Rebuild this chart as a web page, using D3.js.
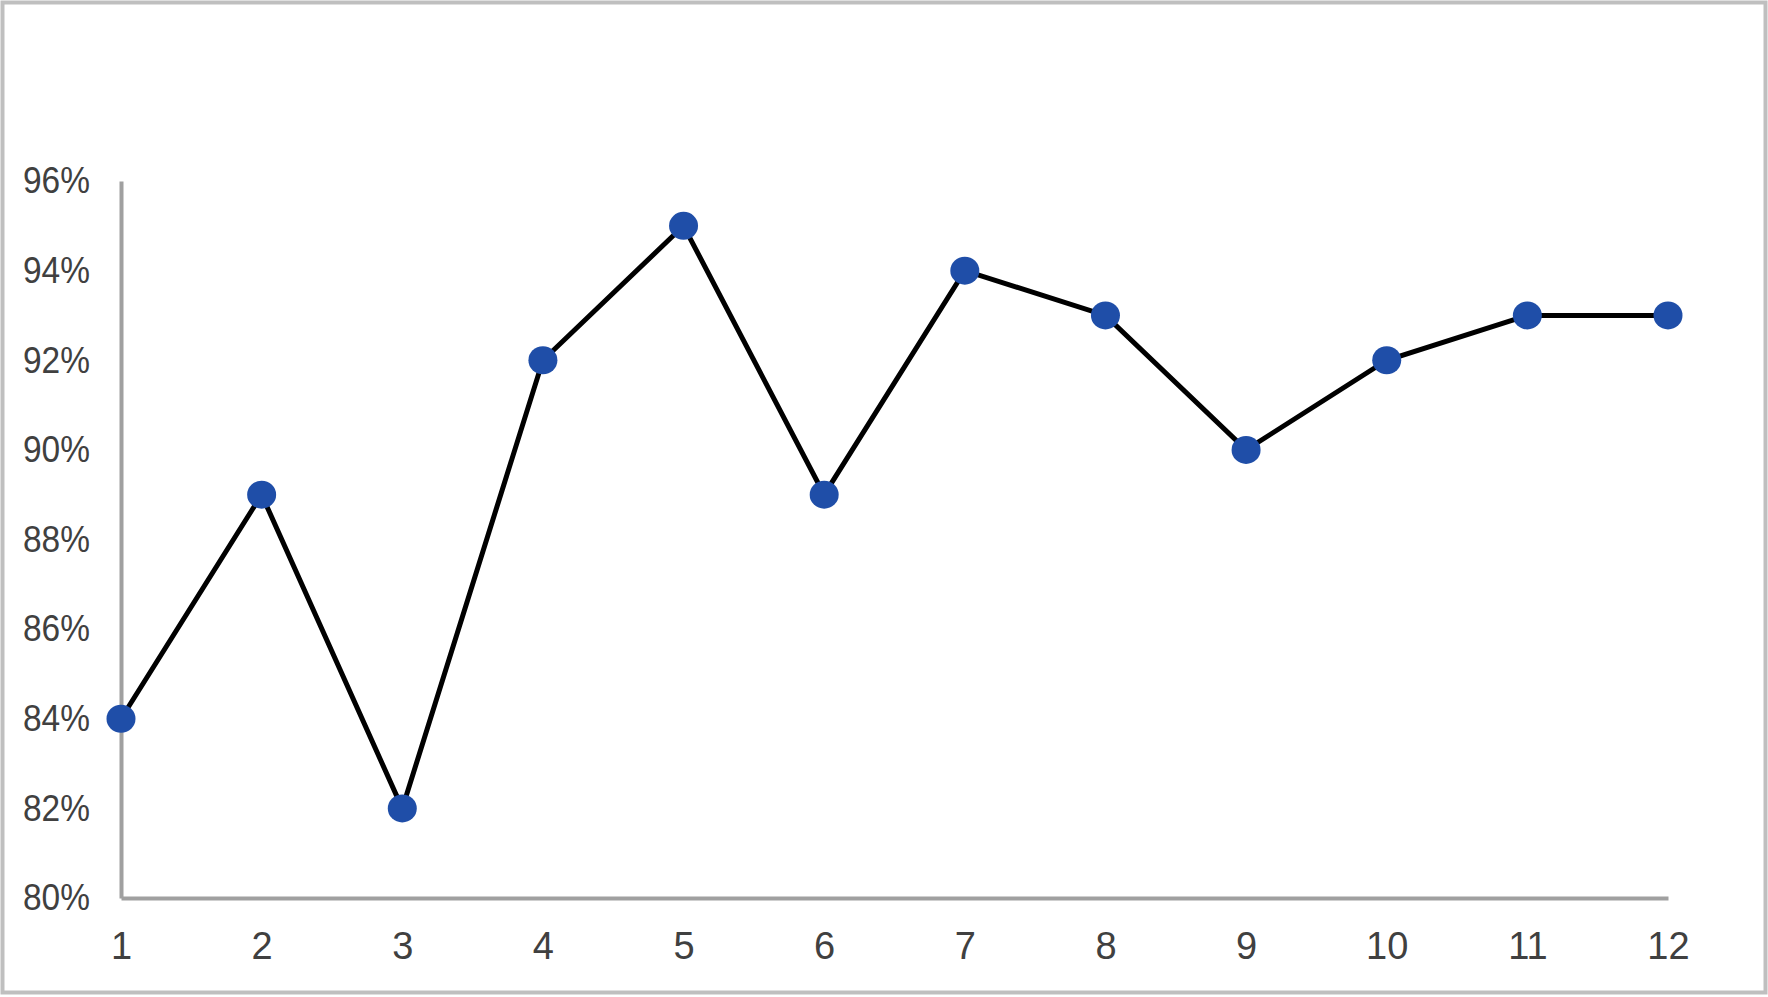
<!DOCTYPE html>
<meta charset="utf-8">
<style>
body { margin: 0; background: #fff; }
text {
  font-family: "Liberation Sans", Arial, sans-serif;
  fill: #404040;
}
</style>
<svg width="1768" height="997"></svg>
<script src="https://d3js.org/d3.v7.min.js"></script>
<script>
var months = [1, 2, 3, 4, 5, 6, 7, 8, 9, 10, 11, 12];
var rates = [84, 89, 82, 92, 95, 89, 94, 93, 90, 92, 93, 93];
var yTicks = [80, 82, 84, 86, 88, 90, 92, 94, 96];

var svg = d3.select("svg"),
    width = +svg.attr("width"),
    height = +svg.attr("height");

// outer frame
svg.append("rect")
    .attr("x", 2.5).attr("y", 2.5)
    .attr("width", width - 5).attr("height", height - 7)
    .attr("fill", "none")
    .attr("stroke", "#bfbfbf")
    .attr("stroke-width", 4);

var plotLeft = 121, plotRight = 1668, plotTop = 181, plotBottom = 898;

var x = d3.scalePoint().domain(months).range([plotLeft, plotRight]);
var y = d3.scaleLinear().domain([80, 96]).range([plotBottom, plotTop]);

// axes
var yAxis = svg.append("g")
    .attr("transform", "translate(" + plotLeft + ",0)")
    .call(d3.axisLeft(y).tickValues(yTicks).tickSize(0).tickPadding(31)
      .tickFormat(function(d) { return d + "%"; }));
yAxis.select(".domain").attr("stroke", "#a0a0a0").attr("stroke-width", 4);
// labels in the source are a bit condensed
yAxis.selectAll("text")
    .attr("font-size", 37)
    .attr("fill", "#404040")
    .attr("textLength", 67)
    .attr("lengthAdjust", "spacingAndGlyphs");

var xAxis = svg.append("g")
    .attr("transform", "translate(0," + plotBottom + ")")
    .call(d3.axisBottom(x).tickSize(0).tickPadding(34));
xAxis.select(".domain").attr("stroke", "#a0a0a0").attr("stroke-width", 4);
xAxis.selectAll("text").attr("font-size", 38).attr("fill", "#404040");

var data = months.map(function(m, i) { return { m: m, v: rates[i] }; });

svg.append("path")
    .datum(data)
    .attr("fill", "none")
    .attr("stroke", "#000")
    .attr("stroke-width", 5)
    .attr("stroke-linejoin", "miter")
    .attr("d", d3.line()
      .x(function(d) { return x(d.m); })
      .y(function(d) { return y(d.v); }));

svg.append("g")
  .selectAll("ellipse")
  .data(data)
  .enter().append("ellipse")
    .attr("cx", function(d) { return x(d.m); })
    .attr("cy", function(d) { return y(d.v); })
    .attr("rx", 14.5)
    .attr("ry", 14)
    .attr("fill", "#1f4ea8");
</script>
